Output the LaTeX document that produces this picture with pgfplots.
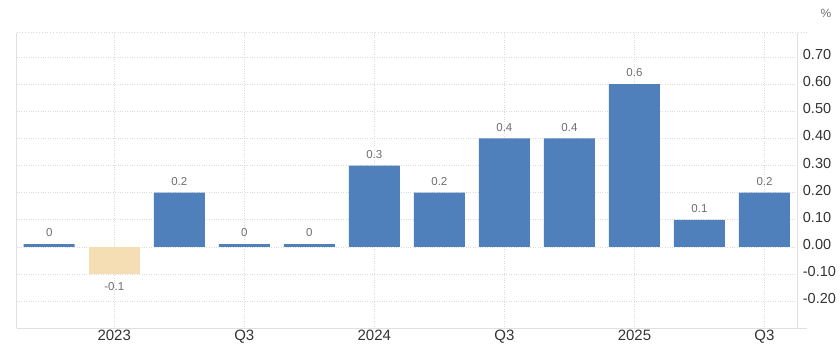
\documentclass[border=0pt]{standalone}
\usepackage{fontspec}
\setmainfont{Liberation Sans}
\usepackage{pgfplots}
\usepackage{pgfplotstable}
\pgfplotsset{compat=1.18}
\definecolor{barblue}{HTML}{4F80BC}
\definecolor{barneg}{HTML}{F5DEB3}
\definecolor{gridc}{HTML}{DCDCDC}
\definecolor{axc}{HTML}{E0E0E0}
\definecolor{lblc}{HTML}{6E6E6E}
\definecolor{tickc}{HTML}{333333}
\pgfplotstableread{
x y lab
0 0.01 0
2 0.2 0.2
3 0.01 0
4 0.01 0
5 0.3 0.3
6 0.2 0.2
7 0.4 0.4
8 0.4 0.4
9 0.6 0.6
10 0.1 0.1
11 0.2 0.2
}\posdata
\pgfplotstableread{
x y lab
1 -0.1 -0.1
}\negdata
\begin{document}
\begin{tikzpicture}
\useasboundingbox (0,0) rectangle (840pt,351pt);
\begin{axis}[
  at={(16.7pt,22.7pt)}, anchor=south west,
  width=780.3pt, height=295.6pt, scale only axis,
  xmin=-0.5, xmax=11.5, ymin=-0.3, ymax=0.79,
  clip=false,
  ybar, bar width=51pt, /pgf/bar shift=0pt,
  xtick={1,3,5,7,9,11},
  xticklabels={2023,Q3,2024,Q3,2025,Q3},
  ytick={-0.2,-0.1,0,0.1,0.2,0.3,0.4,0.5,0.6,0.7},
  yticklabel pos=right,
  major tick length=0pt,
  xmajorgrids, ymajorgrids,
  major grid style={dotted, gridc, line width=0.8pt},
  axis line style={draw=none},
  /pgf/number format/.cd, fixed, fixed zerofill, precision=2, assume math mode=true,
  /pgfplots/.cd,
  yticklabel style={anchor=west, inner sep=0pt, xshift=5.7pt, yshift=2.5pt,
    font=\fontsize{14.5}{16}\selectfont, text=tickc},
  xticklabel style={anchor=north, inner sep=0pt, yshift=-1.7pt,
    font=\fontsize{15}{17}\selectfont, text=tickc},
  nodes near coords,
  point meta=explicit symbolic,
  every node near coord/.append style={inner sep=0pt,
    font=\fontsize{11.5}{13}\selectfont, text=lblc},
]
\addplot[fill=barblue, draw=none, nodes near coords align={above=7pt}]
  table[x=x, y=y, meta=lab] {\posdata};
\addplot[fill=barneg, draw=none, nodes near coords align={below=8.5pt}]
  table[x=x, y=y, meta=lab] {\negdata};
\draw[axc, line width=0.9pt] (rel axis cs:0,0) -- (rel axis cs:0,1);
\draw[axc, line width=0.9pt] (rel axis cs:1,0) -- (rel axis cs:1,1);
\draw[axc, line width=0.9pt] (rel axis cs:0,0) -- ([xshift=9.5pt]rel axis cs:1,0);
\draw[gridc, dotted, line width=0.8pt] (rel axis cs:0,1) -- ([xshift=9.5pt]rel axis cs:1,1);
\end{axis}
\node[text=lblc, font=\fontsize{12}{14}\selectfont, inner sep=0pt] at (826pt,338pt) {\%};
\end{tikzpicture}
\end{document}
